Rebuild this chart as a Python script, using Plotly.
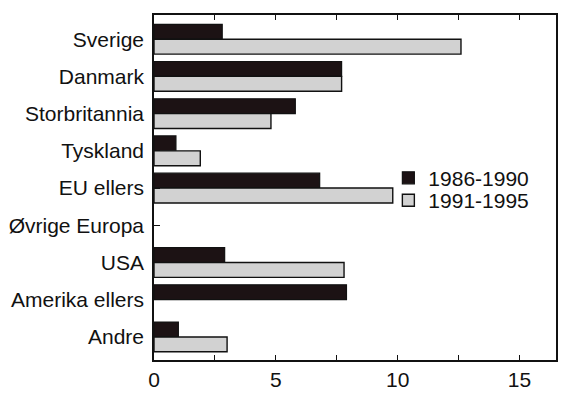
import plotly.graph_objects as go

categories = ["Sverige", "Danmark", "Storbritannia", "Tyskland", "EU ellers",
              "Øvrige Europa", "USA", "Amerika ellers", "Andre"]
period_1986_1990 = [2.8, 7.7, 5.8, 0.9, 6.8, 0, 2.9, 7.9, 1.0]
period_1991_1995 = [12.6, 7.7, 4.8, 1.9, 9.8, 0, 7.8, 0, 3.0]
x_tick_vals = [0, 2.5, 5, 7.5, 10, 12.5, 15]
x_tick_text = ["0", "", "5", "", "10", "", "15"]

font = dict(family="Liberation Sans, Arial, sans-serif", size=21, color="#111111")


def outline_widths(values, width):
    # no outline on empty bars, so nothing is drawn at zero
    return [width if v > 0 else 0 for v in values]


fig = go.Figure()
fig.add_trace(go.Bar(
    y=categories, x=period_1986_1990, orientation="h", name="1986-1990",
    legend="legend",
    marker=dict(color="#1c1214",
                line=dict(color="#111111", width=outline_widths(period_1986_1990, 1.2))),
))
fig.add_trace(go.Bar(
    y=categories, x=period_1991_1995, orientation="h", name="1991-1995",
    legend="legend2",
    marker=dict(color="#d2d2d2",
                line=dict(color="#111111", width=outline_widths(period_1991_1995, 1.4))),
))

legend_style = dict(xanchor="left", yanchor="middle", bgcolor="rgba(0,0,0,0)",
                    font=dict(size=21), itemwidth=30)

fig.update_layout(
    width=564, height=397,
    margin=dict(l=154, r=6, t=15, b=30),
    paper_bgcolor="white", plot_bgcolor="white",
    barmode="group", bargap=0.2, bargroupgap=0,
    font=font,
    showlegend=True,
    legend=dict(x=0.583, y=0.527, **legend_style),
    legend2=dict(x=0.583, y=0.462, **legend_style),
)
fig.update_xaxes(
    range=[0, 16.5], tickvals=x_tick_vals, ticktext=x_tick_text,
    ticks="inside", ticklen=5, tickcolor="#111111", tickwidth=1.2,
    showline=True, linecolor="#111111", linewidth=1.5, mirror="ticks",
    showgrid=False, zeroline=False,
)
fig.update_yaxes(
    categoryorder="array", categoryarray=categories,
    range=[8.62, -0.65],
    ticks="inside", ticklen=6, tickcolor="#111111", tickwidth=1.2,
    showline=True, linecolor="#111111", linewidth=1.5, mirror=True,
    showgrid=False, zeroline=False, ticklabelstandoff=4,
)

fig.write_html("out.html")
